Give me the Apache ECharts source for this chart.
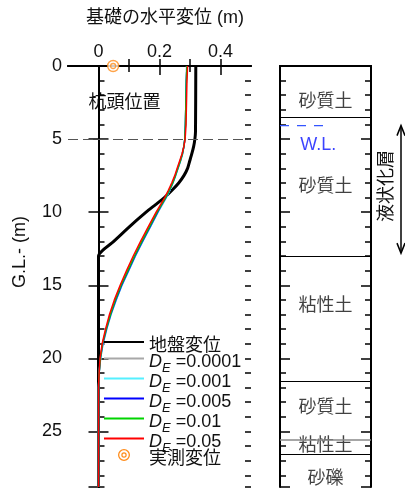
<!DOCTYPE html>
<html><head><meta charset="utf-8">
<script src="https://cdn.jsdelivr.net/npm/echarts@6/dist/echarts.min.js"></script>
<style>html,body{margin:0;padding:0;background:#fff}#c{width:405px;height:493px}</style>
</head><body><div id="c"></div>
<script>
// ---------- data ----------
const xTickLabels = [0, 0.2, 0.4];
const groundDepth = [0, 4.5, 5, 5.5, 6, 6.5, 7, 7.5, 8, 8.5, 9, 9.5, 10, 11, 12, 13, 28.8];
const groundDisp  = [0.319, 0.318, 0.316, 0.312, 0.306, 0.299, 0.292, 0.280, 0.263, 0.241, 0.216, 0.186, 0.156, 0.101, 0.050, 0.0, 0.0];

const pileDepth = [0, 1, 2, 3, 4, 5, 5.5, 6, 6.5, 7, 7.5, 8, 8.5, 9, 9.5, 10, 11, 12, 13, 14, 15, 16, 17, 18, 19, 20, 21, 22, 24, 26, 28.8];
const dispDE00001 = [0.289, 0.288, 0.287, 0.286, 0.285, 0.283, 0.280, 0.276, 0.269, 0.261, 0.253, 0.244, 0.234, 0.222, 0.209, 0.195, 0.170, 0.145, 0.121, 0.099, 0.077, 0.058, 0.041, 0.027, 0.015, 0.007, 0.002, 0.0, 0.0, 0.0, 0.0];
const dispDE0001  = [0.289, 0.288, 0.287, 0.286, 0.285, 0.283, 0.280, 0.276, 0.269, 0.261, 0.253, 0.244, 0.234, 0.222, 0.208, 0.195, 0.170, 0.145, 0.121, 0.099, 0.077, 0.058, 0.041, 0.027, 0.015, 0.007, 0.002, 0.0, 0.0, 0.0, 0.0];
const dispDE0005  = [0.290, 0.288, 0.287, 0.286, 0.285, 0.283, 0.280, 0.275, 0.268, 0.260, 0.252, 0.243, 0.233, 0.221, 0.207, 0.194, 0.169, 0.144, 0.120, 0.098, 0.076, 0.057, 0.040, 0.026, 0.014, 0.006, 0.002, 0.0, 0.0, 0.0, 0.0];
const dispDE001   = [0.290, 0.288, 0.287, 0.286, 0.285, 0.283, 0.280, 0.275, 0.268, 0.260, 0.252, 0.243, 0.232, 0.220, 0.206, 0.192, 0.167, 0.142, 0.118, 0.096, 0.074, 0.055, 0.039, 0.025, 0.013, 0.006, 0.002, 0.0, 0.0, 0.0, 0.0];
const dispDE005   = [0.292, 0.290, 0.289, 0.288, 0.287, 0.284, 0.280, 0.274, 0.266, 0.258, 0.250, 0.240, 0.229, 0.217, 0.203, 0.189, 0.163, 0.138, 0.114, 0.092, 0.071, 0.052, 0.036, 0.023, 0.012, 0.005, 0.002, 0.0, 0.0, 0.0, 0.0];

const measuredDepth = [0];
const measuredDisp  = [0.048];

const pileHeadDepth = 5;
const layerBoundaries = [3.5, 13.0, 21.55, 25.55, 26.55];
const soilNames = ['砂質土', '砂質土', '粘性土', '砂質土', '粘性土', '砂礫'];
const soilLabelDepth = [2.45, 8.25, 16.45, 23.4, 26.0, 28.25];
const waterLevel = 4.08;
const liquefiedTop = 4.08, liquefiedBottom = 12.8;

const seriesNames = ['地盤変位', 'D_E=0.0001', 'D_E=0.001', 'D_E=0.005', 'D_E=0.01', 'D_E=0.05', '実測変位'];

// ---------- chart ----------
const FONT = "'Liberation Sans','Noto Sans CJK JP',sans-serif";
const TXT = '#111';
const chart = echarts.init(document.getElementById('c'), null, {renderer: 'canvas'});
const pair = (xs, ys) => xs.map((x, i) => [x, ys[i]]);
const DMAX = 28.8;

const bullseye = 'path://M0,6A6,6 0 1,1 12,6A6,6 0 1,1 0,6Z' +
  'M1.3,6A4.7,4.7 0 1,0 10.7,6A4.7,4.7 0 1,0 1.3,6Z' +
  'M3.3,6A2.7,2.7 0 1,1 8.7,6A2.7,2.7 0 1,1 3.3,6Z' +
  'M4.5,6A1.5,1.5 0 1,0 7.5,6A1.5,1.5 0 1,0 4.5,6Z';

function yAxes(grid, side, major, labels) {
  return {
    gridIndex: grid, type: 'value', position: side, offset: 0, inverse: true,
    min: 0, max: DMAX, interval: major ? 5 : 1,
    axisLine: {show: major, lineStyle: {color: '#000', width: 2}},
    axisTick: {show: true, inside: true, length: major ? 10 : 6, lineStyle: {color: '#000', width: 1.5}},
    axisLabel: {show: labels, fontSize: 18, fontFamily: FONT, color: TXT, margin: 6, showMaxLabel: false},
    splitLine: {show: false}
  };
}

const lineSeries = (name, ys, color, width) => ({
  name, type: 'line', xAxisIndex: 0, yAxisIndex: 0,
  data: pair(ys, pileDepth), symbol: 'none', showSymbol: false,
  lineStyle: {color, width}, itemStyle: {color}, animation: false
});

const legendRich = {
  d: {fontSize: 18, fontStyle: 'italic', lineHeight: 19, padding: [8, 0, 0, 0], fontFamily: FONT, color: TXT},
  e: {fontSize: 13, fontStyle: 'italic', lineHeight: 7, padding: [20, 0, 0, 0], fontFamily: FONT, color: TXT},
  t: {fontSize: 18, lineHeight: 19, padding: [8, 0, 0, 0], fontFamily: FONT, color: TXT}
};
const hideSym = {opacity: 0};

const option = {
  animation: false,
  backgroundColor: '#fff',
  grid: [
    {left: 68, top: 66, width: 183, height: 421},
    {left: 280, top: 66, width: 91, height: 421}
  ],
  xAxis: [
    {gridIndex: 0, type: 'value', position: 'top', min: -0.1, max: 0.5,
     axisLine: {lineStyle: {color: '#000', width: 2}},
     axisTick: {inside: true, length: 9, customValues: xTickLabels, lineStyle: {color: '#000', width: 1.5}},
     axisLabel: {customValues: xTickLabels, fontSize: 18, fontFamily: FONT, color: TXT, margin: 5},
     splitLine: {show: false}},
    {gridIndex: 0, type: 'value', position: 'top', min: -0.1, max: 0.5,
     axisLine: {show: false},
     axisTick: {inside: true, length: 6, customValues: [0.1, 0.3], lineStyle: {color: '#000', width: 1.5}},
     axisLabel: {show: false}, splitLine: {show: false}},
    {gridIndex: 0, type: 'value', position: 'bottom', min: -0.1, max: 0.5,
     axisLine: {lineStyle: {color: '#000', width: 2}},
     axisTick: {inside: true, length: 7, customValues: [0.1, 0.2, 0.3, 0.4], lineStyle: {color: '#000', width: 1.5}},
     axisLabel: {show: false}, splitLine: {show: false}},
    {gridIndex: 1, type: 'value', position: 'top', min: 0, max: 1,
     axisLine: {lineStyle: {color: '#000', width: 2}}, axisTick: {show: false}, axisLabel: {show: false}, splitLine: {show: false}},
    {gridIndex: 1, type: 'value', position: 'bottom', min: 0, max: 1,
     axisLine: {lineStyle: {color: '#000', width: 2}}, axisTick: {show: false}, axisLabel: {show: false}, splitLine: {show: false}}
  ],
  yAxis: [
    yAxes(0, 'left', true, true), yAxes(0, 'left', false, false),
    yAxes(0, 'right', true, false), yAxes(0, 'right', false, false),
    yAxes(1, 'left', true, false), yAxes(1, 'left', false, false),
    yAxes(1, 'right', true, false), yAxes(1, 'right', false, false)
  ],
  legend: {
    orient: 'vertical', left: 103, top: 329, padding: 0, itemWidth: 40, itemHeight: 12, itemGap: -13,
    selectedMode: false, symbolKeepAspect: true,
    textStyle: {fontSize: 18, fontFamily: FONT, color: TXT, lineHeight: 27, rich: legendRich},
    formatter: function (n) {
      if (n.indexOf('D_E=') === 0) return '{d|D}{e|E}{t| =' + n.slice(4) + '}';
      return '{t|' + n + '}';
    },
    data: [
      {name: seriesNames[0], itemStyle: hideSym}, {name: seriesNames[1], itemStyle: hideSym},
      {name: seriesNames[2], itemStyle: hideSym}, {name: seriesNames[3], itemStyle: hideSym},
      {name: seriesNames[4], itemStyle: hideSym}, {name: seriesNames[5], itemStyle: hideSym},
      {name: seriesNames[6], icon: bullseye, itemStyle: {color: '#ff8c1a', borderWidth: 0, opacity: 1}}
    ]
  },
  series: [
    {name: seriesNames[0], type: 'line', xAxisIndex: 0, yAxisIndex: 0,
     data: pair(groundDisp, groundDepth), symbol: 'none', showSymbol: false, smooth: 0.2,
     lineStyle: {color: '#000', width: 3}, itemStyle: {color: '#000'},
     markLine: {silent: true, symbol: 'none', label: {show: false},
       lineStyle: {color: '#555', width: 1.2, type: [10, 5]},
       data: [{yAxis: pileHeadDepth}]}},
    lineSeries(seriesNames[1], dispDE00001, '#a8a8a8', 1.5),
    lineSeries(seriesNames[2], dispDE0001, '#55f0ff', 1.5),
    lineSeries(seriesNames[3], dispDE0005, '#0000ff', 1.5),
    lineSeries(seriesNames[4], dispDE001, '#00d400', 1.5),
    lineSeries(seriesNames[5], dispDE005, '#ff0000', 1.5),
    {name: seriesNames[6], type: 'scatter', xAxisIndex: 0, yAxisIndex: 0, clip: false, z: 5,
     data: pair(measuredDisp, measuredDepth), symbol: 'circle', symbolSize: 11,
     itemStyle: {color: '#fff', borderColor: '#ff8c1a', borderWidth: 1.4}},
    {name: 'inner', type: 'scatter', xAxisIndex: 0, yAxisIndex: 0, clip: false, z: 6,
     data: pair(measuredDisp, measuredDepth), symbol: 'circle', symbolSize: 5,
     itemStyle: {color: 'rgba(0,0,0,0)', borderColor: '#ff8c1a', borderWidth: 1.3}},
    // soil column
    {name: 'layers', type: 'line', xAxisIndex: 3, yAxisIndex: 4, data: [], symbol: 'none',
     markLine: {silent: true, symbol: 'none', label: {show: false},
       data: layerBoundaries.map((d, i) => ({yAxis: d,
         lineStyle: {color: i === 3 ? '#888' : '#000', width: i === 3 ? 1.6 : 1, type: 'solid'}}))}},
    {name: 'wl', type: 'line', xAxisIndex: 3, yAxisIndex: 4, data: [[0, waterLevel], [0.5, waterLevel]],
     symbol: 'none', lineStyle: {color: '#3355ff', width: 1.3, type: [9, 8]}},
    {name: 'soil', type: 'scatter', xAxisIndex: 3, yAxisIndex: 4, symbolSize: 1,
     itemStyle: {color: 'rgba(0,0,0,0)'},
     data: soilNames.map((s, i) => ({value: [0.5, soilLabelDepth[i]], name: s})),
     label: {show: true, position: 'inside', formatter: p => p.name, fontSize: 18, fontFamily: FONT, color: TXT}},
    {name: 'wltext', type: 'scatter', xAxisIndex: 3, yAxisIndex: 4, symbolSize: 1,
     itemStyle: {color: 'rgba(0,0,0,0)'},
     data: [{value: [0.42, 5.4], name: 'W.L.'}],
     label: {show: true, position: 'inside', formatter: p => p.name, fontSize: 18, fontFamily: FONT, color: '#0a14ff'}}
  ]
};
chart.setOption(option);

const yTop = chart.convertToPixel({gridIndex: 1}, [0, liquefiedTop])[1];
const yBot = chart.convertToPixel({gridIndex: 1}, [0, liquefiedBottom])[1];
const ax = 401;
chart.setOption({
  graphic: [
    {type: 'text', style: {text: '基礎の水平変位 (m)', x: 165, y: 18, align: 'center', verticalAlign: 'middle', fontSize: 18, fontFamily: FONT, fill: TXT}},
    {type: 'text', x: 20, y: 252, rotation: Math.PI / 2, style: {text: 'G.L.- (m)', align: 'center', verticalAlign: 'middle', fontSize: 18, fontFamily: FONT, fill: TXT}},
    {type: 'text', style: {text: '杭頭位置', x: 124.5, y: 103, align: 'center', verticalAlign: 'middle', fontSize: 18, fontFamily: FONT, fill: TXT}},
    {type: 'text', x: 387, y: 186, rotation: Math.PI / 2, style: {text: '液状化層', align: 'center', verticalAlign: 'middle', fontSize: 18, fontFamily: FONT, fill: TXT}},
    {type: 'line', shape: {x1: ax, y1: yTop, x2: ax, y2: yBot}, style: {stroke: '#000', lineWidth: 1.5}},
    {type: 'polyline', shape: {points: [[ax - 4, yTop + 10], [ax, yTop], [ax + 4, yTop + 10]]}, style: {stroke: '#000', lineWidth: 1.5, fill: null}},
    {type: 'polyline', shape: {points: [[ax - 4, yBot - 10], [ax, yBot], [ax + 4, yBot - 10]]}, style: {stroke: '#000', lineWidth: 1.5, fill: null}}
  ]
});
</script>
</body></html>
